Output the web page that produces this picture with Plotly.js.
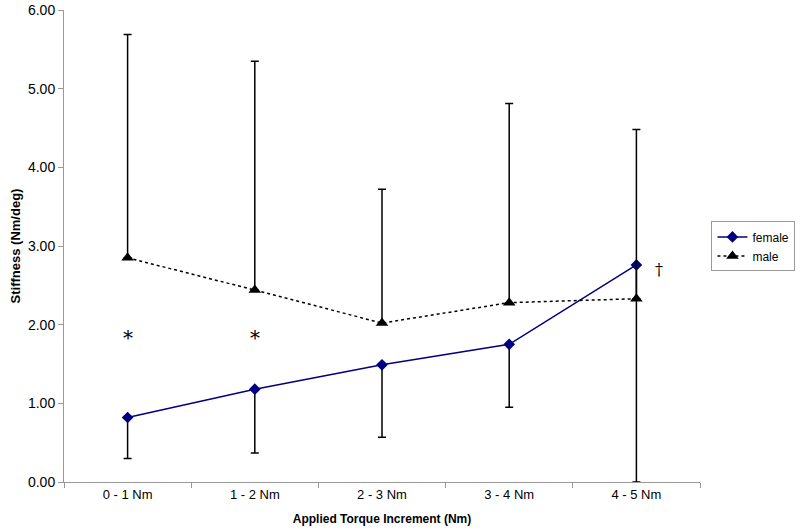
<!DOCTYPE html>
<html>
<head>
<meta charset="utf-8">
<script src="https://cdn.plot.ly/plotly-3.0.1.min.js"></script>
<style>html,body{margin:0;padding:0;background:#fff;}#chart{width:800px;height:530px;}</style>
</head>
<body>
<div id="chart"></div>
<script>
var categories = ["0 - 1 Nm", "1 - 2 Nm", "2 - 3 Nm", "3 - 4 Nm", "4 - 5 Nm"];
var femaleValues = [0.82, 1.18, 1.49, 1.75, 2.76];
var femaleLower = [0.30, 0.37, 0.57, 0.95, 0.00];
var maleValues = [2.85, 2.44, 2.02, 2.28, 2.33];
var maleUpper = [5.69, 5.35, 3.72, 4.81, 4.48];
var yTicks = [0, 1, 2, 3, 4, 5, 6];
var yTickLabels = ["0.00", "1.00", "2.00", "3.00", "4.00", "5.00", "6.00"];

var femaleMinus = femaleValues.map(function(v, i){ return v - femaleLower[i]; });
var malePlus = maleUpper.map(function(v, i){ return v - maleValues[i]; });
var zeros = categories.map(function(){ return 0; });

var traces = [
  {
    x: categories, y: femaleValues, name: "female", type: "scatter", mode: "lines+markers",
    line: {color: "#000080", width: 1.5},
    marker: {symbol: "diamond", size: 9, color: "#000080"},
    error_y: {type: "data", symmetric: false, array: zeros, arrayminus: femaleMinus, color: "#000", thickness: 1.5, width: 4}
  },
  {
    x: categories, y: maleValues, name: "male", type: "scatter", mode: "lines+markers",
    line: {color: "#000", width: 1.5, dash: "dot"},
    marker: {symbol: "triangle-up", size: 11, color: "#000"},
    error_y: {type: "data", symmetric: false, array: malePlus, arrayminus: zeros, color: "#000", thickness: 1.5, width: 4}
  }
];

var layout = {
  width: 800, height: 530,
  margin: {l: 64, r: 100, t: 10, b: 48, autoexpand: false},
  paper_bgcolor: "#fff", plot_bgcolor: "#fff",
  font: {family: "Liberation Sans, Arial, sans-serif", color: "#000"},
  showlegend: true,
  legend: {x: 1.018, y: 0.552, xanchor: "left", yanchor: "top", bordercolor: "#999", borderwidth: 1,
           font: {size: 12}, tracegroupgap: 0, itemwidth: 30},
  xaxis: {
    type: "category", range: [-0.5, 4.5], showgrid: false, zeroline: false,
    showline: true, linecolor: "#999", linewidth: 1,
    ticks: "outside", ticklen: 5, tickcolor: "#999", tickson: "boundaries",
    tickfont: {size: 13},
    title: {text: "<b>Applied Torque Increment (Nm)</b>", font: {size: 12}, standoff: 14}
  },
  yaxis: {
    range: [0, 6], tickvals: yTicks, ticktext: yTickLabels, showgrid: false, zeroline: false,
    showline: true, linecolor: "#999", linewidth: 1,
    ticks: "outside", ticklen: 5, tickcolor: "#999",
    tickfont: {size: 14},
    title: {text: "<b>Stiffness (Nm/deg)</b>", font: {size: 13}, standoff: 4}
  },
  annotations: [
    {x: 0, y: 1.83, xref: "x", yref: "y", text: "*", showarrow: false, font: {size: 20, color: "#000", family: "DejaVu Serif, serif"}},
    {x: 1, y: 1.83, xref: "x", yref: "y", text: "*", showarrow: false, font: {size: 20, color: "#000", family: "DejaVu Serif, serif"}},
    {x: 4.18, y: 2.70, xref: "x", yref: "y", text: "†", showarrow: false, font: {size: 16, color: "#000", family: "DejaVu Serif, serif"}}
  ]
};

Plotly.newPlot("chart", traces, layout, {displayModeBar: false, staticPlot: true});
</script>
</body>
</html>
